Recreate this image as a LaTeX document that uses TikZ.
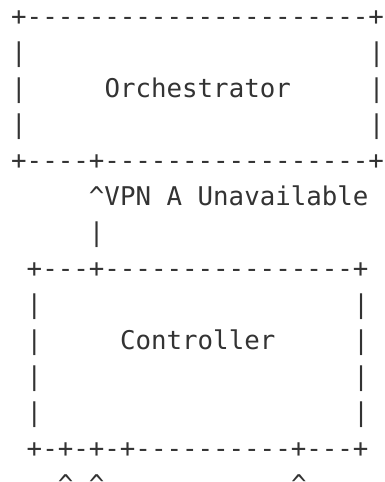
\documentclass[tikz,border=0pt]{standalone}
\usepackage{fontspec}
\setmonofont{DejaVu Sans Mono}
\definecolor{ink}{HTML}{333333}
\tikzset{
  ascii/.style={font=\ttfamily\fontsize{25.8}{36}\selectfont, text=ink,
    inner sep=0pt, outer sep=0pt, anchor=base west}
}
\begin{document}
\begin{tikzpicture}
\useasboundingbox (0pt,0pt) rectangle (384pt,-482pt);
% one character cell is 15.55pt wide, one text line is 36pt high
\begin{scope}[shift={(11.2pt,-25pt)}, x=15.55pt, y=-36pt]
  % Orchestrator box
  \node[ascii] (orchTop)   at (0,0)  {+----------------------+};
  \node[ascii] (orchL1)    at (0,1)  {|};
  \node[ascii] (orchR1)    at (23,1) {|};
  \node[ascii] (orchL2)    at (0,2)  {|};
  \node[ascii] (orchName)  at (6,2)  {Orchestrator};
  \node[ascii] (orchR2)    at (23,2) {|};
  \node[ascii] (orchL3)    at (0,3)  {|};
  \node[ascii] (orchR3)    at (23,3) {|};
  \node[ascii] (orchBot)   at (0,4)  {+----+-----------------+};
  % notification up to the orchestrator
  \node[ascii] (vpnLabel)  at (5,5)  {\^{}VPN A Unavailable};
  \node[ascii] (vpnStem)   at (5,6)  {|};
  % Controller box
  \node[ascii] (ctrlTop)   at (1,7)  {+---+----------------+};
  \node[ascii] (ctrlL1)    at (1,8)  {|};
  \node[ascii] (ctrlR1)    at (22,8) {|};
  \node[ascii] (ctrlL2)    at (1,9)  {|};
  \node[ascii] (ctrlName)  at (7,9)  {Controller};
  \node[ascii] (ctrlR2)    at (22,9) {|};
  \node[ascii] (ctrlL3)    at (1,10) {|};
  \node[ascii] (ctrlR3)    at (22,10) {|};
  \node[ascii] (ctrlL4)    at (1,11) {|};
  \node[ascii] (ctrlR4)    at (22,11) {|};
  \node[ascii] (ctrlBot)   at (1,12) {+-+-+-+----------+---+};
  % arrows coming up from below
  \node[ascii] (upA)       at (3,13) {\^{}};
  \node[ascii] (upB)       at (5,13) {\^{}};
  \node[ascii] (upC)       at (18,13) {\^{}};
\end{scope}
\end{tikzpicture}
\end{document}
